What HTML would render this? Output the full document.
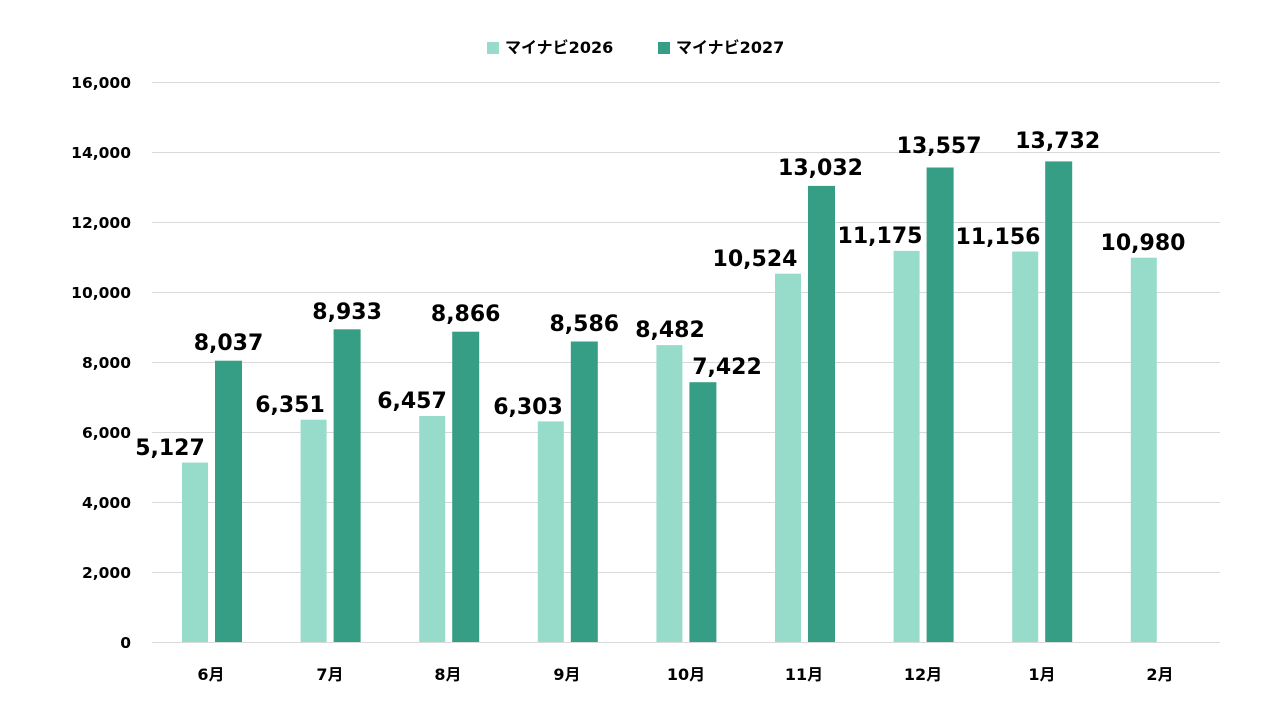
<!DOCTYPE html>
<html><head><meta charset="utf-8"><style>body{margin:0;background:#fff}</style></head><body>
<svg width="1280" height="720" xmlns="http://www.w3.org/2000/svg" font-family="'DejaVu Sans','Noto Sans CJK JP',sans-serif">
<g stroke="#d9d9d9" stroke-width="1">
<line x1="152" x2="1220" y1="82.5" y2="82.5"/><line x1="152" x2="1220" y1="152.5" y2="152.5"/>
<line x1="152" x2="1220" y1="222.5" y2="222.5"/><line x1="152" x2="1220" y1="292.5" y2="292.5"/>
<line x1="152" x2="1220" y1="362.5" y2="362.5"/><line x1="152" x2="1220" y1="432.5" y2="432.5"/>
<line x1="152" x2="1220" y1="502.5" y2="502.5"/><line x1="152" x2="1220" y1="572.5" y2="572.5"/>
<line x1="152" x2="1220" y1="642.5" y2="642.5"/>
</g>
<g font-size="15.5" font-weight="bold" fill="#000" text-anchor="end">
<text x="131" y="88">16,000</text><text x="131" y="158">14,000</text><text x="131" y="228">12,000</text>
<text x="131" y="298">10,000</text><text x="131" y="368">8,000</text><text x="131" y="438">6,000</text>
<text x="131" y="508">4,000</text><text x="131" y="578">2,000</text><text x="131" y="648">0</text>
</g>
<g fill="#97dccb">
<rect x="182" y="462.6" width="26" height="179.4"/>
<rect x="300.6" y="419.7" width="26" height="222.3"/>
<rect x="419.2" y="416" width="26" height="226"/>
<rect x="537.8" y="421.4" width="26" height="220.6"/>
<rect x="656.4" y="345.1" width="26" height="296.9"/>
<rect x="775" y="273.7" width="26" height="368.3"/>
<rect x="893.6" y="250.9" width="26" height="391.1"/>
<rect x="1012.2" y="251.5" width="26" height="390.5"/>
<rect x="1130.8" y="257.7" width="26" height="384.3"/>
</g>
<g fill="#369e85">
<rect x="215" y="360.7" width="27" height="281.3"/>
<rect x="333.6" y="329.3" width="27" height="312.7"/>
<rect x="452.2" y="331.7" width="27" height="310.3"/>
<rect x="570.8" y="341.5" width="27" height="300.5"/>
<rect x="689.4" y="382.2" width="27" height="259.8"/>
<rect x="808" y="185.9" width="27" height="456.1"/>
<rect x="926.6" y="167.5" width="27" height="474.5"/>
<rect x="1045.2" y="161.4" width="27" height="480.6"/>
</g>
<g font-size="22" font-weight="bold" text-anchor="middle" fill="#000">
<text x="170" y="455">5,127</text>
<text x="290" y="412">6,351</text>
<text x="412" y="408">6,457</text>
<text x="528" y="414">6,303</text>
<text x="670" y="337">8,482</text>
<text x="755" y="266">10,524</text>
<text x="880" y="243">11,175</text>
<text x="998" y="244">11,156</text>
<text x="1143" y="250">10,980</text>
<text x="228.5" y="350">8,037</text>
<text x="347.1" y="319">8,933</text>
<text x="465.7" y="321">8,866</text>
<text x="584.3" y="331">8,586</text>
<text x="727" y="374">7,422</text>
<text x="820.5" y="175">13,032</text>
<text x="939.1" y="153">13,557</text>
<text x="1057.7" y="148">13,732</text>
</g>
<g font-size="16" font-weight="bold" text-anchor="middle">
<text x="211" y="680">6月</text><text x="330" y="680">7月</text><text x="448" y="680">8月</text>
<text x="567" y="680">9月</text><text x="686" y="680">10月</text><text x="804" y="680">11月</text>
<text x="923" y="680">12月</text><text x="1042" y="680">1月</text><text x="1160" y="680">2月</text>
</g>
<rect x="487" y="42" width="12" height="12" fill="#97dccb"/>
<text x="505" y="53" font-size="16" font-weight="bold">マイナビ2026</text>
<rect x="658" y="42" width="12" height="12" fill="#369e85"/>
<text x="676" y="53" font-size="16" font-weight="bold">マイナビ2027</text>
</svg>
</body></html>
